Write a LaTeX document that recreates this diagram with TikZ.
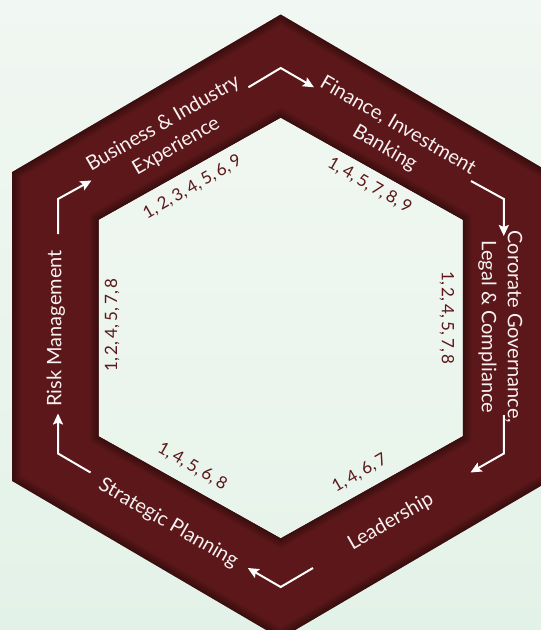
\documentclass[tikz,border=0pt]{standalone}
\usepackage{fontspec}
\setmainfont{Lato}
\newfontfamily\numfont{Lato}[WordSpace=0.7]
\usetikzlibrary{arrows.meta}
\definecolor{maroon}{HTML}{5B1719}
\definecolor{bgtop}{HTML}{F1F7F2}
\definecolor{bgbot}{HTML}{E3F2E8}
\definecolor{intop}{HTML}{F0F7F1}
\definecolor{inbot}{HTML}{E8F4EB}
\definecolor{txtwhite}{HTML}{F8F1F1}
\begin{document}
\begin{tikzpicture}[x=1pt,y=-1pt,
  bandlabel/.style={text=txtwhite, font=\fontsize{20}{26}\selectfont, align=center, inner sep=0pt},
  numlabel/.style={text=maroon, font=\numfont\fontsize{17}{18}\selectfont, inner sep=0pt},
  flowarrow/.style={draw=white, line width=2pt, line join=miter, -{Stealth[length=11pt,width=10pt,inset=2pt]}}]
\useasboundingbox (0,0) rectangle (541,630);
\clip (0,0) rectangle (541,630);
\shade[top color=bgtop, bottom color=bgbot] (0,0) rectangle (541,630);
% outer hexagon
\coordinate (oT)  at (280.7,14.5);
\coordinate (oUR) at (549.2,172);
\coordinate (oLR) at (549.2,481);
\coordinate (oB)  at (280.7,638.5);
\coordinate (oLL) at (12.2,481);
\coordinate (oUL) at (12.2,172);
% inner hexagon
\coordinate (iT)  at (280.7,118);
\coordinate (iUR) at (462.6,220);
\coordinate (iLR) at (462.6,436);
\coordinate (iB)  at (280.7,538);
\coordinate (iLL) at (98.8,436);
\coordinate (iUL) at (98.8,220);
\fill[maroon, even odd rule] (oT)--(oUR)--(oLR)--(oB)--(oLL)--(oUL)--cycle
  (iT)--(iUR)--(iLR)--(iB)--(iLL)--(iUL)--cycle;
\begin{scope}[even odd rule]
  \clip (oT)--(oUR)--(oLR)--(oB)--(oLL)--(oUL)--cycle
    (iT)--(iUR)--(iLR)--(iB)--(iLL)--(iUL)--cycle;
  \foreach \w in {2,4,...,18} {
    \draw[black, opacity=0.045, line width=\w pt, line join=miter]
      (oT)--(oUR)--(oLR)--(oB)--(oLL)--(oUL)--cycle
      (iT)--(iUR)--(iLR)--(iB)--(iLL)--(iUL)--cycle;
  }
\end{scope}
\shade[top color=intop, bottom color=inbot] (iT)--(iUR)--(iLR)--(iB)--(iLL)--(iUL)--cycle;
% arrows
\coordinate (a1s) at (248.4,87.3); \coordinate (a1c) at (280.7,68);  \coordinate (a1e) at (314,87.3);
\coordinate (a2s) at (471,181);    \coordinate (a2c) at (503.8,199); \coordinate (a2e) at (503.8,236);
\coordinate (a3s) at (503.8,415);  \coordinate (a3c) at (503.8,453.5); \coordinate (a3e) at (470.5,472.5);
\coordinate (a4s) at (313,568);    \coordinate (a4c) at (280.7,587); \coordinate (a4e) at (247.8,568);
\coordinate (a5s) at (90.5,472.5); \coordinate (a5c) at (58,453.5);  \coordinate (a5e) at (58,413.5);
\coordinate (a6s) at (58,234);     \coordinate (a6c) at (58,199);    \coordinate (a6e) at (91.5,180.5);
\draw[flowarrow] (a1s) -- (a1c) -- (a1e);
\draw[flowarrow] (a2s) -- (a2c) -- (a2e);
\draw[flowarrow] (a3s) -- (a3c) -- (a3e);
\draw[flowarrow] (a4s) -- (a4c) -- (a4e);
\draw[flowarrow] (a5s) -- (a5c) -- (a5e);
\draw[flowarrow] (a6s) -- (a6c) -- (a6e);
% band labels
\node[bandlabel, rotate=30]  (business) at (169.7,135) {Business \& Industry\\Experience};
\node[bandlabel, rotate=-30] (finance)  at (391.2,137.2) {Finance, Investment\\Banking};
\node[bandlabel, rotate=-90] (governance) at (500.3,327) {Cororate Governance,\\Legal \& Compliance};
\node[bandlabel, rotate=30]  (leadership) at (390.8,521.7) {Leadership};
\node[bandlabel, rotate=-30] (strategic) at (168.2,523.3) {Strategic Planning};
\node[bandlabel, rotate=90]  (risk) at (55.9,328.4) {Risk Management};
% numbers
\node[numlabel, rotate=30]  (n1) at (192.4,187.2) {1, 2, 3, 4, 5, 6, 9};
\node[numlabel, rotate=-30] (n2) at (369.7,185.5) {1, 4, 5, 7, 8, 9};
\node[numlabel, rotate=-90] (n3) at (447,318) {1, 2, 4, 5, 7, 8};
\node[numlabel, rotate=30]  (n4) at (359.7,473.3) {1, 4, 6, 7};
\node[numlabel, rotate=-30] (n5) at (192.4,466.4) {1, 4, 5, 6, 8};
\node[numlabel, rotate=90]  (n6) at (112,325) {1, 2, 4, 5, 7, 8};
\end{tikzpicture}
\end{document}
